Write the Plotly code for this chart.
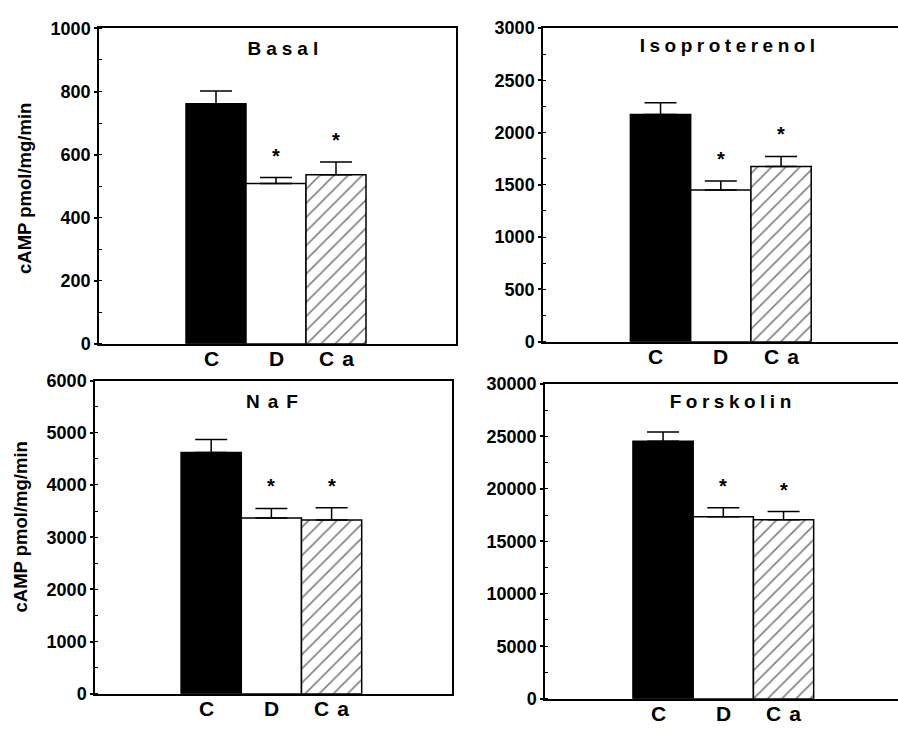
import plotly.graph_objects as go

W, H = 898, 732

categories = ["C", "D", "Ca"]

titles = ["Basal", "Isoproterenol", "NaF", "Forskolin"]

basal_mean = [761, 508, 536]
basal_err = [41, 19, 40]
iso_mean = [2172, 1450, 1676]
iso_err = [114, 87, 96]
naf_mean = [4623, 3366, 3329]
naf_err = [249, 186, 234]
fsk_mean = [24537, 17343, 17065]
fsk_err = [889, 861, 771]

y_max = [1000, 3000, 6000, 30000]
y_dtick = [200, 500, 1000, 5000]
significant = ["D", "Ca"]

ytitle = "cAMP pmol/mg/min"

FONT = "Liberation Sans, Arial, Helvetica, sans-serif"

means = [basal_mean, iso_mean, naf_mean, fsk_mean]
errs = [basal_err, iso_err, naf_err, fsk_err]

bar_fill = ["black", "white", "white"]
bar_hatch = ["", "", "/"]

# panel geometry in pixels: (left, right, top, bottom)
panels = [
    (99, 456, 19, 343),
    (543, 898, 18.5, 341),
    (95, 452, 381, 703),
    (545, 898, 384.5, 708),
]
xranges = [(-1.95, 4.0), (-1.95, 3.94), (-1.93, 4.0), (-1.96, 3.9)]
mirror_y = [True, False, True, False]

# title centers (px) and letter spacing
title_pos = [(283, 40), (727.5, 37), (271.7, 402.5), (731, 402)]
title_ls = [5, 4.5, 8, 4.5]
cat_ls = [0, 0, 8]

fig = go.Figure()
annotations = []
css_rules = []

for i in range(4):
    xa = "x" if i == 0 else f"x{i+1}"
    ya = "y" if i == 0 else f"y{i+1}"
    for j, c in enumerate(categories):
        marker = dict(color=bar_fill[j], line=dict(color="black", width=1.5))
        if bar_hatch[j]:
            marker["pattern"] = dict(shape=bar_hatch[j], fgcolor="black",
                                     bgcolor="white", size=10, solidity=0.16)
        fig.add_trace(go.Bar(
            x=[j], y=[means[i][j]], width=1.0,
            xaxis=xa, yaxis=ya, marker=marker,
            error_y=dict(type="data", symmetric=False, array=[errs[i][j]],
                         arrayminus=[0], color="black",
                         thickness=1.5, width=16),
            showlegend=False, hoverinfo="skip",
        ))
    l, r, t, b = panels[i]
    xkey = "xaxis" if i == 0 else f"xaxis{i+1}"
    ykey = "yaxis" if i == 0 else f"yaxis{i+1}"
    fig.layout[xkey] = dict(
        domain=[l / W, r / W], range=list(xranges[i]), anchor=ya,
        showline=True, linecolor="black", linewidth=1.5, mirror=True,
        showgrid=False, zeroline=False, ticks="", showticklabels=False,
        fixedrange=True,
    )
    fig.layout[ykey] = dict(
        domain=[1 - b / H, 1 - t / H], range=[0, y_max[i]], anchor=xa,
        showline=True, linecolor="black", linewidth=1.5, mirror=mirror_y[i],
        showgrid=False, zeroline=False,
        ticks="outside", ticklen=3, tickwidth=1.5, tickcolor="black",
        dtick=y_dtick[i], tick0=0, tickformat="d",
        minor=dict(ticks="inside", ticklen=3, tickwidth=1, tickcolor="black",
                   dtick=y_dtick[i] / 2, showgrid=False),
        tickfont=dict(family=FONT, size=18, color="black", weight="bold"),
        fixedrange=True,
    )
    # title
    tx, ty = title_pos[i]
    css_rules.append((len(annotations), title_ls[i]))
    annotations.append(dict(
        xref="paper", yref="paper", x=(tx + title_ls[i] / 2) / W, y=1 - ty / H,
        text=titles[i], showarrow=False, xanchor="center", yanchor="middle",
        font=dict(family=FONT, size=19, color="black", weight="bold"),
    ))
    # category labels
    for j, c in enumerate(categories):
        if cat_ls[j]:
            css_rules.append((len(annotations), cat_ls[j]))
        annotations.append(dict(
            xref=xa, yref=f"{ya} domain", x=j, y=0, yanchor="top",
            xanchor="center", xshift=cat_ls[j] / 2 - (5 if j == 0 else 0),
            yshift=-1,
            text=c, showarrow=False,
            font=dict(family=FONT, size=21, color="black", weight="bold"),
        ))

# y axis titles
for (px, py) in [(25, 184), (20, 532)]:
    annotations.append(dict(
        xref="paper", yref="paper", x=px / W, y=1 - py / H, text=ytitle,
        textangle=-90, showarrow=False, xanchor="center", yanchor="middle",
        font=dict(family=FONT, size=18.5, color="black", weight="bold"),
    ))

# significance stars
for i in range(4):
    xa = "x" if i == 0 else f"x{i+1}"
    ya = "y" if i == 0 else f"y{i+1}"
    for j, c in enumerate(categories):
        if c in significant:
            annotations.append(dict(
                xref=xa, yref=ya, x=j, y=means[i][j] + errs[i][j],
                text="*", showarrow=False, xanchor="center", yanchor="bottom",
                yshift=9,
                font=dict(family=FONT, size=20, color="black", weight="bold"),
            ))

fig.update_layout(
    width=W, height=H, autosize=False,
    margin=dict(l=0, r=0, t=0, b=0, pad=0),
    paper_bgcolor="white", plot_bgcolor="white",
    showlegend=False, barmode="overlay",
    annotations=annotations,
)

css = "html,body{margin:0;padding:0;overflow:hidden} " + " ".join(
    f'g.annotation[data-index="{k}"] text{{letter-spacing:{ls}px}}'
    for k, ls in css_rules
)

post = (
    "var s=document.createElement('style');"
    f"s.textContent='{css}';"
    "document.head.appendChild(s);"
)

fig.write_html("out.html", post_script=post, config={"displayModeBar": False})
